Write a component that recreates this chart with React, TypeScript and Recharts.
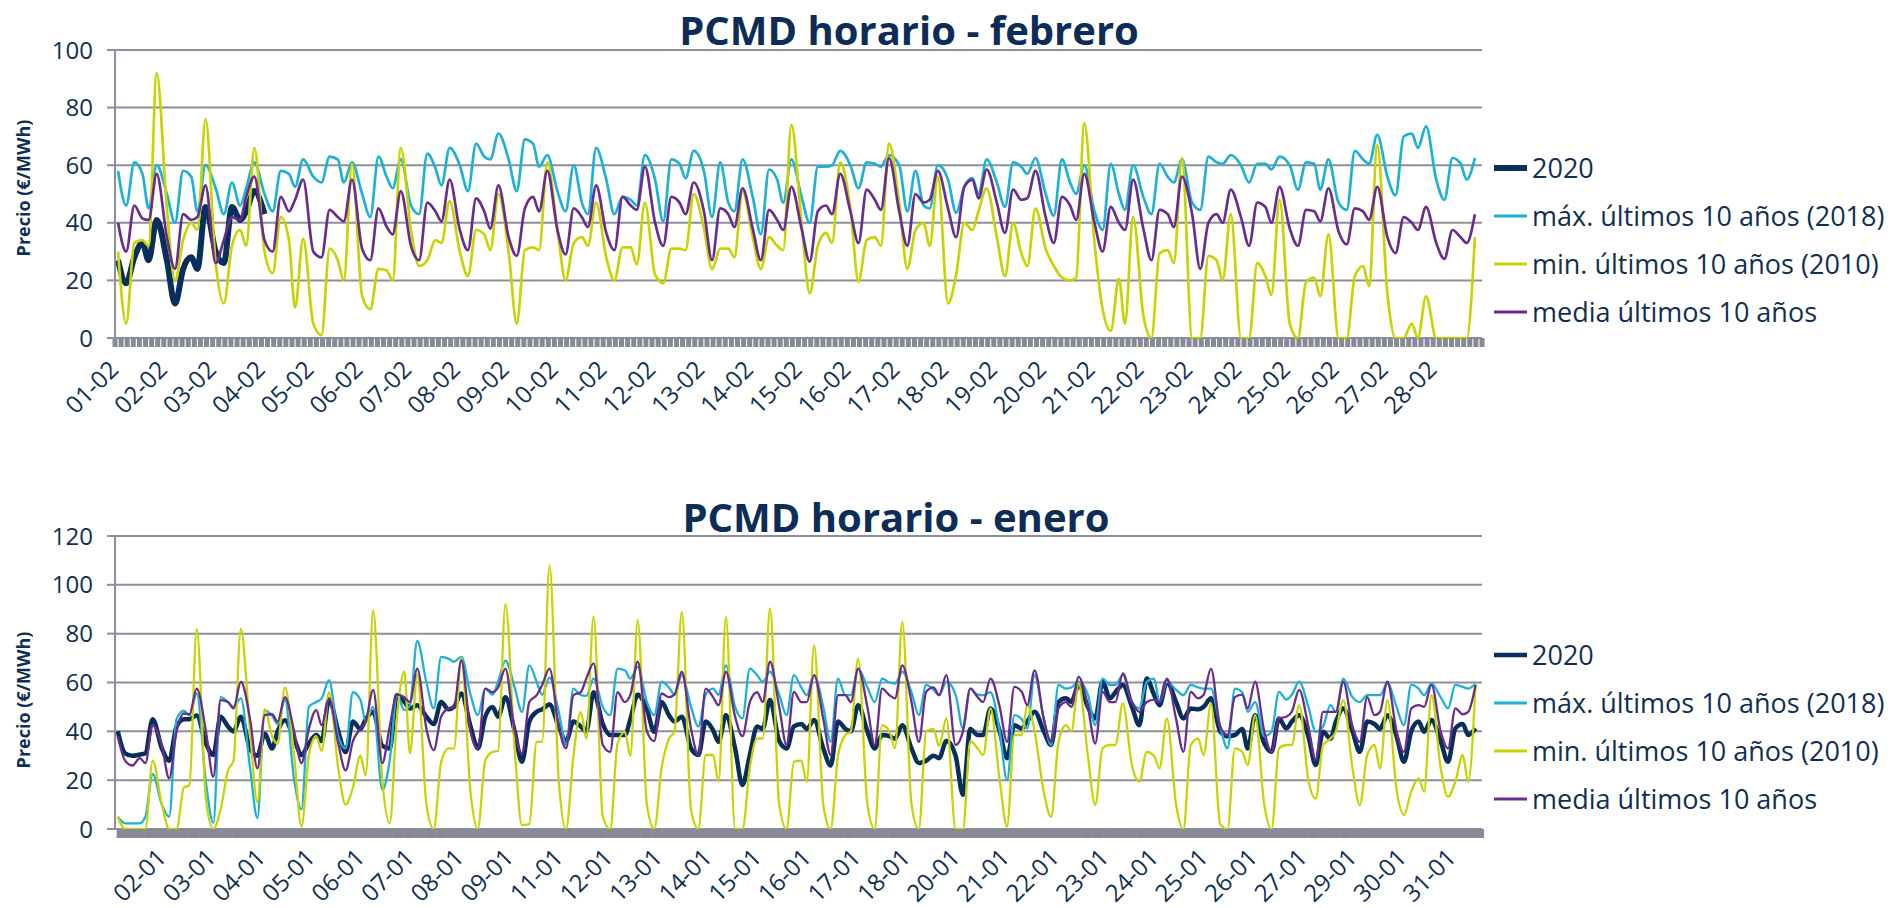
import { LineChart, Line, XAxis, YAxis, CartesianGrid } from "recharts";

const FONT = "'Open Sans', 'DejaVu Sans', sans-serif";
const NAVY = "#062f5b";
const CYAN = "#1db1d8";
const LIME = "#c8d400";
const PURPLE = "#6a2c8f";
const GRID = "#8d909c";
const BAND = "#878a97";
const TEXT = "#0f2f55";

// muestras por día (hora del día)
const HOURS = [1, 5, 9, 13, 16, 20];

const FEB_DAYS = 28;
const JAN_DAYS = 31;

const SERIES_NAMES = [
  "2020",
  "máx. últimos 10 años (2018)",
  "min. últimos 10 años (2010)",
  "media últimos 10 años",
];

const FEB_LABELS = [
  "01-02", "02-02", "03-02", "04-02", "05-02", "06-02", "07-02", "08-02", "09-02", "10-02",
  "11-02", "12-02", "13-02", "14-02", "15-02", "16-02", "17-02", "18-02", "19-02", "20-02",
  "21-02", "22-02", "23-02", "24-02", "25-02", "26-02", "27-02", "28-02",
];

const JAN_LABELS = [
  "02-01", "03-01", "04-01", "05-01", "06-01", "07-01", "08-01", "09-01", "11-01", "12-01",
  "13-01", "14-01", "15-01", "16-01", "17-01", "18-01", "20-01", "21-01", "22-01", "23-01",
  "24-01", "25-01", "26-01", "27-01", "29-01", "30-01", "31-01",
];
const JAN_LABEL_START = 26;
const JAN_LABEL_STEP = 27;

// ---- febrero ----
const FEB_2020 = [
  27, 19, 28, 33, 27, 41, 27, 12, 24, 28, 24, 45.5,
  30, 26, 45.5, 41, 44, 51, 43,
];

const FEB_MAX = [
  58, 46, 61, 57, 45, 60, 50, 40, 58, 56, 44, 60,
  52, 43, 54, 46, 52, 61, 50, 44, 58, 57, 52.5, 62,
  56, 54, 63, 62, 54, 61, 50, 42, 63, 56, 52, 62,
  46, 43, 64, 59, 53, 66, 60, 51, 67.5, 63, 62, 71,
  62, 51, 69, 67.5, 59.5, 63.5, 51, 44, 60, 47, 43, 66,
  55, 43, 49, 48, 46, 63.5, 55, 40.5, 62, 60.5, 55.5, 65,
  58, 42, 61, 47, 44, 62, 49, 36, 58.5, 55, 47, 62,
  49, 40, 59.5, 59.5, 60, 65, 60, 52, 61, 60.5, 59.5, 63.5,
  60, 44, 58, 46, 45, 60, 55, 43.5, 52.5, 55.5, 50, 62,
  54, 45.5, 61, 59.5, 57, 62.5, 50, 42.5, 62, 54, 50, 60,
  44, 37.5, 60.5, 50, 44.5, 60, 49, 43, 60.5, 56, 54, 62,
  47, 44.5, 63, 61, 60.5, 63.5, 60, 54, 60.5, 60.5, 58.5, 63,
  60, 51.5, 61, 60.5, 51.5, 62, 47, 44.5, 65, 62, 60.5, 70.5,
  56, 49.5, 70, 71, 66, 73.5, 55, 48, 62.5, 60.5, 55, 62.5,
];

const FEB_MIN = [
  30, 5, 33, 34, 32, 92, 45, 20, 34, 40, 37.5, 76,
  26, 12, 32, 37.5, 32, 66, 30, 22.5, 42, 34, 10.5, 34.5,
  5, 1, 31, 27, 20, 60.5, 14.5, 10, 24, 23.5, 20, 66,
  37.5, 25, 27, 34, 33, 47.5, 30, 21.5, 37.5, 36, 30.5, 50,
  30, 5, 30.5, 31.5, 30.5, 61, 37.5, 20, 33, 35, 32, 47,
  28, 20, 31.5, 31.5, 25.5, 47, 22, 19, 31, 31, 30.5, 50,
  38, 24, 31, 31, 28, 51, 35, 24, 35, 32, 30.5, 74,
  40, 15.5, 32, 36.5, 33, 61, 45, 19.5, 34, 35, 32, 67.5,
  47, 24, 37.5, 40, 32, 56, 12, 22, 40, 37.5, 44, 52,
  35, 21.5, 40, 29.5, 25, 45, 31, 25, 21, 20, 21, 74.5,
  33, 10, 2.5, 20.5, 5, 42, 8, 0, 29.5, 30.5, 26, 62.5,
  0, 0, 28.5, 27, 20, 43, 0, 0, 26, 21.5, 15, 48,
  5, 0, 19.5, 21, 14.5, 36, 0, 0, 21.5, 25, 18, 67,
  15.5, 0, 0, 5, 0, 14.5, 0, 0, 0, 0, 0, 35,
];

const FEB_MEDIA = [
  40, 30, 46, 41.5, 41, 57, 35, 24, 43, 41, 42, 53,
  26, 34, 42, 41, 49, 56, 34, 30, 49, 44, 48, 55,
  30, 28, 44.5, 42, 40.5, 55, 31, 27, 45, 38.7, 36, 51,
  32, 27, 47, 44, 40.5, 55, 37.5, 30.5, 48.5, 44, 38, 53,
  35, 28.5, 45, 49, 44, 58, 37.5, 29, 45, 42, 38.5, 53,
  36.5, 30.5, 49, 46, 44.5, 59.5, 40, 32, 49, 47, 43, 54,
  44, 27, 45, 43, 38.5, 52, 38, 27, 44.5, 41, 37.5, 52.5,
  38, 26.5, 44, 46, 43, 57, 44, 33, 51.5, 48, 44.5, 62.5,
  44, 32, 50, 47, 48, 58, 45, 35, 52.5, 55, 48.5, 58.5,
  47, 36.5, 51.5, 48, 48.5, 58, 42, 33, 49, 46, 41, 57,
  40, 30, 45.5, 40, 37.5, 55, 38, 27, 44.5, 43, 38.5, 56,
  43, 24, 40, 43, 40, 51.5, 42, 32, 47, 45.5, 40, 52.5,
  38, 32, 44.5, 44, 40.5, 52, 37, 32.5, 45, 44, 41, 52.5,
  35, 29.5, 42, 40, 37.5, 45.5, 33, 27.5, 37.5, 35, 33, 43,
];

// ---- enero ----
const JAN_2020 = [
  40, 31, 30, 30.5, 31, 45, 33, 28, 42, 45, 45, 46.5,
  35, 30.3, 46, 42, 40, 46, 33, 30, 39, 33, 40, 44.5,
  37, 30.3, 35, 38.5, 36, 53, 40, 31.5, 44, 41, 45, 48,
  34, 33, 54.8, 52, 49.4, 50.7, 46, 43, 52, 49, 50, 55.5,
  42, 33, 46, 50, 46, 54, 40, 27.5, 44, 48, 49, 51,
  42, 36, 44, 42, 40, 56, 43, 38.5, 38.5, 38.5, 45, 55,
  49, 39.8, 52, 46.6, 44, 46, 33, 30.3, 44, 40.5, 35.7, 46.6,
  33, 18, 30.3, 42, 41, 52.8, 36, 33, 42, 43, 41, 44.6,
  33, 26, 44, 41, 40, 50.7, 40, 33, 38.5, 38, 37, 42.5,
  33, 27, 28, 30, 29, 36, 30, 14, 41, 38.5, 38.5, 49.4,
  40, 29, 42.5, 41.2, 44, 48, 40, 34.4, 52, 53.5, 52, 59,
  50, 45.3, 60.3, 53.5, 56, 59, 50, 42.5, 61.6, 55, 50.7, 60.3,
  52, 45.3, 49.4, 49, 50, 53.5, 40, 38, 38.5, 41, 33, 46.6,
  35, 31.6, 45.3, 41.2, 44, 46.6, 38, 26.2, 39.8, 37, 44, 49.4,
  40, 31.6, 44, 43, 41, 46.6, 38, 27.5, 40, 44, 39.8, 44.6,
  36, 27.5, 41.2, 43, 38.5, 41.2,
];

const JAN_MAX = [
  5, 2.3, 2.3, 2.3, 5, 22.5, 10, 5, 45, 48.5, 46.5, 55.5,
  19, 2.5, 54, 52, 50, 53.5, 25, 4.5, 48.5, 46.5, 43, 53,
  20, 8, 50, 52, 53.5, 61, 38, 33, 56, 53, 44, 50,
  16, 28, 54.8, 48.7, 50.7, 77, 60, 49.4, 70.5, 69.8, 68.5, 70.5,
  55, 46.6, 57.5, 55, 60.3, 69, 58, 48, 67, 60.3, 55, 62,
  48, 34.4, 57.5, 54.8, 54.5, 61.6, 50, 46.6, 65.7, 65, 61.6, 66.4,
  52, 46.6, 60.3, 58, 55, 63, 50, 41.9, 55, 57.5, 55, 67,
  50, 45.3, 65.7, 63, 60.3, 64.4, 55, 46.6, 63, 58, 54.8, 63,
  50, 35.7, 61.6, 54.8, 54.8, 65.7, 58, 52, 61.6, 60, 59.6, 64.4,
  56, 46.6, 59, 57, 54.8, 60.3, 55, 41.2, 57.5, 55, 54.8, 56,
  40, 20, 46.6, 45, 41.2, 63, 45, 34.4, 59, 57.5, 58, 60.3,
  55, 42.5, 61.6, 59, 59, 63, 52, 49.4, 60.3, 61.6, 52, 60.3,
  57, 54.8, 59, 58, 57.5, 57.5, 42, 33, 57.5, 56, 48, 52,
  38, 40, 56.2, 53, 55, 60.3, 50, 39.8, 42, 50.7, 48, 61.6,
  54, 52, 54.8, 54.8, 54.8, 59.6, 50, 42.5, 59, 57.5, 54.8, 59.6,
  54, 49.4, 59, 58.2, 57.5, 59.6,
];

const JAN_MIN = [
  5, 0, 0, 0, 0, 28, 10, 0, 0, 17, 18, 82,
  12, 0, 8, 24, 28, 82, 40, 11, 49, 38, 35, 58,
  30, 1, 30, 38, 32, 56, 25, 10, 17, 30, 22, 89.6,
  20, 2.3, 46, 64.4, 31, 63, 10, 0, 27.5, 33, 33, 70,
  15, 0, 28, 31.6, 32, 92, 33, 1.6, 2, 35.7, 35.7, 108,
  20, 0, 30, 48, 37, 87, 5, 0, 35, 39.8, 30, 85.5,
  10, 0, 25, 37, 39.8, 88.9, 8, 0, 30.3, 30.3, 19.4, 86.9,
  0, 0, 25, 37, 37, 90.3, 10, 0, 27.5, 28, 19.4, 75.3,
  10, 0, 30, 38.5, 40, 69.8, 10, 0, 42.5, 40, 33, 84.8,
  10, 0, 40, 41, 34, 45.3, 0, 0, 36, 33, 30.3, 49.4,
  20, 1, 38.5, 38.5, 50.7, 40, 15, 5, 35.7, 42.5, 40, 59.6,
  30, 9.8, 33, 34.4, 34.4, 51.4, 26, 19.4, 31.6, 30, 24.8, 45.3,
  10, 0, 34.4, 37, 30.3, 51.4, 2, 0, 33, 31.6, 26.2, 46.6,
  10, 0, 33, 34.4, 34.4, 50.7, 20, 12.5, 34.4, 37, 40, 52.8,
  25, 9.8, 30.3, 34.4, 24.8, 52.8, 16, 5.7, 15.3, 20.7, 15.3, 54.8,
  25, 13.2, 19.4, 30.3, 19.4, 59.6,
];

const JAN_MEDIA = [
  38, 28, 26, 29, 27, 42.5, 34, 20.7, 40, 47.3, 47, 57.5,
  40, 21.4, 52.8, 52, 49.4, 60.3, 45, 24.8, 46.6, 47, 44, 54,
  40, 27, 41, 48.7, 42.5, 53.5, 35, 24, 36, 41, 44, 57,
  27, 42, 55, 54, 52, 65.7, 41, 32.3, 46, 49.4, 50, 69,
  39.8, 33, 57.5, 56, 58, 65.7, 40, 31, 52, 54.8, 59, 65.7,
  42, 33, 54.8, 56, 61.6, 67.8, 34.4, 31.6, 56, 52, 55, 68.5,
  40, 36, 55.5, 54, 55, 64.4, 41, 30.3, 57.5, 54, 50.7, 64.4,
  46, 38, 52, 56, 52, 68.5, 50, 34.4, 56.2, 52, 52, 63,
  45, 30.3, 54.8, 54.8, 52, 65.7, 50, 34.4, 57.5, 54.8, 53.5, 67,
  52, 35.7, 56.2, 58, 54.8, 63, 34.4, 40, 57.5, 54, 52, 61.6,
  50, 35.7, 58.2, 56.2, 50.7, 65, 45, 35.7, 49.4, 52, 50, 62.3,
  50, 35, 56.2, 52, 52, 63.7, 52, 48, 52, 53, 52, 61.6,
  45, 31.6, 56.2, 53.5, 55, 65.7, 42, 38.5, 54, 55, 49.4, 60.3,
  40, 31.6, 45.3, 46, 48, 57, 42, 28.2, 48, 48, 48, 60.3,
  42, 35.7, 54, 46.6, 48, 60.3, 40, 31.6, 49.4, 50.7, 50, 59,
  40, 33, 49.4, 47, 48, 59,
];

function buildRows(days: number, a: number[], max: number[], min: number[], media: number[]) {
  const rows: any[] = [];
  for (let d = 0; d < days; d++) {
    HOURS.forEach((h, k) => {
      const i = d * HOURS.length + k;
      rows.push({
        x: d * 24 + h + 0.5,
        a: a[i] ?? null,
        max: max[i],
        min: min[i],
        media: media[i],
      });
    });
  }
  return rows;
}

const febRows = buildRows(FEB_DAYS, FEB_2020, FEB_MAX, FEB_MIN, FEB_MEDIA);
const janRows = buildRows(JAN_DAYS, JAN_2020, JAN_MAX, JAN_MIN, JAN_MEDIA);

// marcas del eje (banda gris)
const febBandTicks = Array.from({ length: FEB_DAYS * 8 + 1 }, (_, i) => i * 3);
const janBandTicks = Array.from({ length: JAN_DAYS * 8 }, (_, i) => i * 3 + 2.5);

function DateLabel({ x, y, label }: { x: number; y: number; label: string }) {
  return (
    <text
      x={x}
      y={y}
      transform={`rotate(-45 ${x} ${y})`}
      textAnchor="end"
      fill={TEXT}
      fontSize={24}
      fontFamily={FONT}
    >
      {label}
    </text>
  );
}

function FebTick(props: any) {
  const { x, y, payload } = props;
  const v = payload.value;
  if (v % 24 !== 0 || v / 24 >= FEB_LABELS.length) return <g />;
  return <DateLabel x={x + 5} y={y + 22} label={FEB_LABELS[v / 24]} />;
}

function JanTick(props: any) {
  const { x, y, payload } = props;
  const h = payload.value - 0.5;
  const k = (h - JAN_LABEL_START) / JAN_LABEL_STEP;
  if (h < JAN_LABEL_START || !Number.isInteger(k) || k >= JAN_LABELS.length) return <g />;
  return <DateLabel x={x + 4} y={y + 19} label={JAN_LABELS[k]} />;
}

function Panel({ rows, days, yMax, bandTicks, tick, bandWidth, navyWidth, lineWidth, height, margin, axisHeight }: any) {
  const yTicks = [];
  for (let v = 0; v <= yMax; v += 20) yTicks.push(v);
  return (
    <LineChart width={1490} height={height} data={rows} margin={margin}>
      <CartesianGrid vertical={false} stroke={GRID} strokeWidth={2} />
      <XAxis
        type="number"
        dataKey="x"
        domain={[0, days * 24]}
        ticks={bandTicks}
        interval={0}
        axisLine={false}
        tickLine={{ stroke: BAND, strokeWidth: bandWidth }}
        tickSize={9}
        height={axisHeight}
        tick={tick}
      />
      <YAxis
        domain={[0, yMax]}
        ticks={yTicks}
        interval={0}
        width={115}
        axisLine={{ stroke: GRID, strokeWidth: 2 }}
        tickLine={{ stroke: GRID, strokeWidth: 2 }}
        tickSize={8}
        tickMargin={14}
        tick={{ fill: TEXT, fontSize: 24, fontFamily: FONT }}
      />
      <Line dataKey="a" type="monotone" stroke={NAVY} strokeWidth={navyWidth} dot={false} isAnimationActive={false} />
      <Line dataKey="max" type="monotone" stroke={CYAN} strokeWidth={lineWidth} dot={false} isAnimationActive={false} />
      <Line dataKey="min" type="monotone" stroke={LIME} strokeWidth={lineWidth} dot={false} isAnimationActive={false} />
      <Line dataKey="media" type="monotone" stroke={PURPLE} strokeWidth={lineWidth} dot={false} isAnimationActive={false} />
    </LineChart>
  );
}

function LegendBlock({ top, navyWidth }: { top: number; navyWidth: number }) {
  const colors = [NAVY, CYAN, LIME, PURPLE];
  return (
    <g>
      {SERIES_NAMES.map((name, i) => {
        const y = top + i * 48;
        return (
          <g key={name}>
            <line x1={1494} x2={1527} y1={y} y2={y} stroke={colors[i]} strokeWidth={i === 0 ? navyWidth : 3} />
            <text x={1532} y={y + 10} fill={TEXT} fontSize={27} fontFamily={FONT}>
              {name}
            </text>
          </g>
        );
      })}
    </g>
  );
}

export default function App() {
  return (
    <div style={{ position: "absolute", left: 0, top: 0, width: 1904, height: 908, background: "#fff", overflow: "hidden" }}>
      <div style={{ position: "absolute", left: 0, top: 0 }}>
        <Panel
          rows={febRows}
          days={FEB_DAYS}
          yMax={100}
          bandTicks={febBandTicks}
          tick={FebTick}
          bandWidth={5}
          navyWidth={6}
          lineWidth={2.7}
          height={420}
          margin={{ top: 50, right: 8, bottom: 22, left: 0 }}
          axisHeight={60}
        />
      </div>
      <div style={{ position: "absolute", left: 0, top: 480 }}>
        <Panel
          rows={janRows}
          days={JAN_DAYS}
          yMax={120}
          bandTicks={janBandTicks}
          tick={JanTick}
          bandWidth={6}
          navyWidth={4.5}
          lineWidth={2.3}
          height={428}
          margin={{ top: 56, right: 8, bottom: 9, left: 0 }}
          axisHeight={70}
        />
      </div>
      <svg width={1904} height={908} style={{ position: "absolute", left: 0, top: 0, pointerEvents: "none" }}>
        <text x={909} y={45} textAnchor="middle" fill="#0c2d57" fontSize={40} fontWeight={700} fontFamily={FONT}>
          PCMD horario - febrero
        </text>
        <text x={896} y={532} textAnchor="middle" fill="#0c2d57" fontSize={40} fontWeight={700} fontFamily={FONT}>
          PCMD horario - enero
        </text>
        <text x={30} y={188} transform="rotate(-90 30 188)" textAnchor="middle" fill={TEXT} fontSize={18} fontWeight={700} fontFamily={FONT}>
          Precio (€/MWh)
        </text>
        <text x={30} y={700} transform="rotate(-90 30 700)" textAnchor="middle" fill={TEXT} fontSize={18} fontWeight={700} fontFamily={FONT}>
          Precio (€/MWh)
        </text>
        <LegendBlock top={168} navyWidth={6} />
        <LegendBlock top={655} navyWidth={4.5} />
      </svg>
    </div>
  );
}
